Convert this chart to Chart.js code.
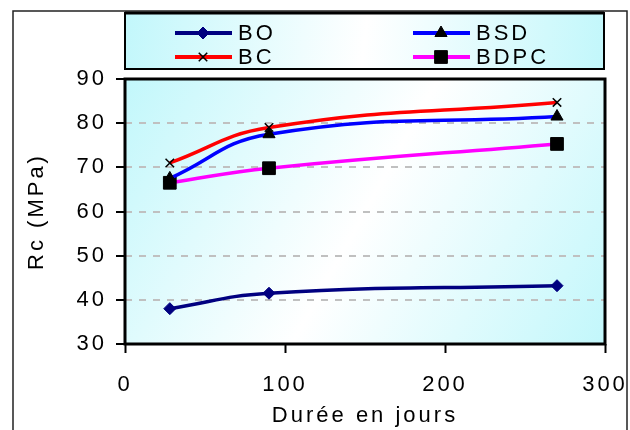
<!DOCTYPE html>
<html>
<head>
<meta charset="utf-8">
<script src="https://cdn.jsdelivr.net/npm/chart.js@4.4.1/dist/chart.umd.min.js"></script>
<style>
  html, body { margin: 0; padding: 0; background: #fff; }
  #box { width: 630px; height: 430px; }
</style>
</head>
<body>
<div id="box"><canvas id="myChart" width="630" height="430"></canvas></div>
<script>
// compressive strength vs age
var days = [28, 90, 270];
var seriesNames = ['BO', 'BSD', 'BC', 'BDPC'];
var bo = [38, 41.5, 43.2];
var bsd = [67.5, 77.5, 81.5];
var bc = [71, 79, 84.7];
var bdpc = [66.5, 69.8, 75.3];
var yTicks = [30, 40, 50, 60, 70, 80, 90];
var xTicks = [0, 100, 200, 300];

var FONT = '"Liberation Sans", Arial, sans-serif';

function points(values) {
    return values.map(function (v, i) { return { x: days[i], y: v }; });
}

function setSpacing(chart) {
    chart.ctx.letterSpacing = '3px';
}

// cyan - white - cyan diagonal fill
function cyanFill(ctx, l, t, r, b) {
    var g = ctx.createLinearGradient(l, t, r, b);
    g.addColorStop(0, '#c2f7fb');
    g.addColorStop(0.5, '#ffffff');
    g.addColorStop(1, '#c2f7fb');
    return g;
}

var framePlugin = {
    id: 'frame',
    beforeUpdate: setSpacing,
    beforeLayout: setSpacing,
    beforeDraw: function (chart) {
        var ctx = chart.ctx, a = chart.chartArea;
        setSpacing(chart);
        ctx.save();
        ctx.fillStyle = cyanFill(ctx, a.left, a.top, a.right, a.bottom);
        ctx.fillRect(a.left, a.top, a.right - a.left, a.bottom - a.top);
        // outer border
        ctx.strokeStyle = '#222';
        ctx.lineWidth = 1.5;
        ctx.beginPath();
        ctx.moveTo(13, 430);
        ctx.lineTo(13, 11);
        ctx.lineTo(627, 11);
        ctx.lineTo(627, 430);
        ctx.stroke();
        ctx.restore();
    },
    afterDatasetsDraw: function (chart) {
        var ctx = chart.ctx, a = chart.chartArea;
        ctx.save();
        ctx.strokeStyle = '#000';
        ctx.lineWidth = 3;
        ctx.strokeRect(a.left, a.top, a.right - a.left, a.bottom - a.top);
        ctx.restore();
    },
    afterDraw: function (chart) {
        // legend box: two columns, two rows
        var ctx = chart.ctx;
        var bx = 125, by = 13, bw = 479, bh = 56;
        ctx.save();
        ctx.fillStyle = cyanFill(ctx, bx, by, bx + bw, by + bh);
        ctx.fillRect(bx, by, bw, bh);
        ctx.strokeStyle = '#000';
        ctx.lineWidth = 2;
        ctx.strokeRect(bx, by, bw, bh);
        ctx.lineWidth = 3;
        ctx.beginPath();
        ctx.moveTo(bx, by);
        ctx.lineTo(bx + bw, by);
        ctx.stroke();

        var cols = [175, 413], rows = [33, 57];
        chart.data.datasets.forEach(function (ds, i) {
            var x = cols[i % 2], y = rows[Math.floor(i / 2)];
            ctx.strokeStyle = ds.borderColor;
            ctx.lineWidth = 4;
            ctx.beginPath();
            ctx.moveTo(x, y);
            ctx.lineTo(x + 57, y);
            ctx.stroke();
            ctx.fillStyle = ds.pointBackgroundColor;
            ctx.strokeStyle = ds.pointBorderColor;
            ctx.lineWidth = ds.pointBorderWidth;
            Chart.helpers.drawPoint(ctx, {
                pointStyle: ds.pointStyle,
                radius: ds.pointRadius,
                rotation: 0,
                borderWidth: ds.pointBorderWidth
            }, x + 28, y);
            ctx.fillStyle = '#000';
            ctx.font = '22px ' + FONT;
            ctx.textBaseline = 'middle';
            ctx.textAlign = 'left';
            ctx.fillText(ds.label, x + 63, y + 1);
        });
        ctx.restore();
    }
};

var ctx = document.getElementById('myChart').getContext('2d');

var myChart = new Chart(ctx, {
    type: 'line',
    data: {
        datasets: [{
            label: seriesNames[0],
            data: points(bo),
            borderColor: '#000080',
            pointStyle: 'rectRot',
            pointRadius: 6,
            pointBackgroundColor: '#000080',
            pointBorderColor: '#000080',
            pointBorderWidth: 1
        }, {
            label: seriesNames[1],
            data: points(bsd),
            borderColor: '#0000ff',
            pointStyle: 'triangle',
            pointRadius: 7,
            pointBackgroundColor: '#000',
            pointBorderColor: '#000',
            pointBorderWidth: 1
        }, {
            label: seriesNames[2],
            data: points(bc),
            borderColor: '#ff0000',
            pointStyle: 'crossRot',
            pointRadius: 6,
            pointBackgroundColor: '#000',
            pointBorderColor: '#000',
            pointBorderWidth: 1.5
        }, {
            label: seriesNames[3],
            data: points(bdpc),
            borderColor: '#ff00ff',
            pointStyle: 'rect',
            pointRadius: 9,
            pointBackgroundColor: '#000',
            pointBorderColor: '#000',
            pointBorderWidth: 1
        }]
    },
    options: {
        responsive: false,
        maintainAspectRatio: false,
        animation: false,
        events: [],
        elements: {
            line: { borderWidth: 3.5, tension: 0.45, fill: false }
        },
        layout: { padding: { top: 79, right: 25, left: 0, bottom: 0 } },
        plugins: {
            legend: { display: false },
            tooltip: { enabled: false }
        },
        scales: {
            x: {
                type: 'linear',
                min: xTicks[0],
                max: xTicks[xTicks.length - 1],
                afterBuildTicks: function (scale) {
                    scale.ticks = xTicks.map(function (v) { return { value: v }; });
                },
                afterFit: function (scale) {
                    scale.height = 86;
                    scale.paddingLeft = 0;
                    scale.paddingRight = 0;
                },
                ticks: {
                    color: '#000',
                    font: { family: FONT, size: 22 },
                    padding: 19,
                    maxRotation: 0
                },
                grid: {
                    drawOnChartArea: false,
                    tickLength: 9,
                    tickColor: '#000',
                    tickWidth: 2
                },
                border: { display: false },
                title: {
                    display: true,
                    text: 'Durée en jours',
                    color: '#000',
                    font: { family: FONT, size: 22 },
                    padding: { top: 0, bottom: 1 }
                }
            },
            y: {
                min: yTicks[0],
                max: yTicks[yTicks.length - 1],
                afterBuildTicks: function (scale) {
                    scale.ticks = yTicks.map(function (v) { return { value: v }; });
                },
                afterFit: function (scale) { scale.width = 125; },
                ticks: {
                    color: '#000',
                    font: { family: FONT, size: 22 },
                    padding: 9
                },
                grid: {
                    color: '#c0c0c0',
                    lineWidth: 2,
                    tickLength: 9,
                    tickColor: '#000',
                    tickWidth: 2,
                    tickBorderDash: []
                },
                border: { display: false, dash: [7, 7] },
                title: {
                    display: true,
                    text: 'Rc (MPa)',
                    color: '#000',
                    font: { family: FONT, size: 22 },
                    padding: { top: 24, bottom: 0 }
                }
            }
        }
    },
    plugins: [framePlugin]
});
</script>
</body>
</html>
